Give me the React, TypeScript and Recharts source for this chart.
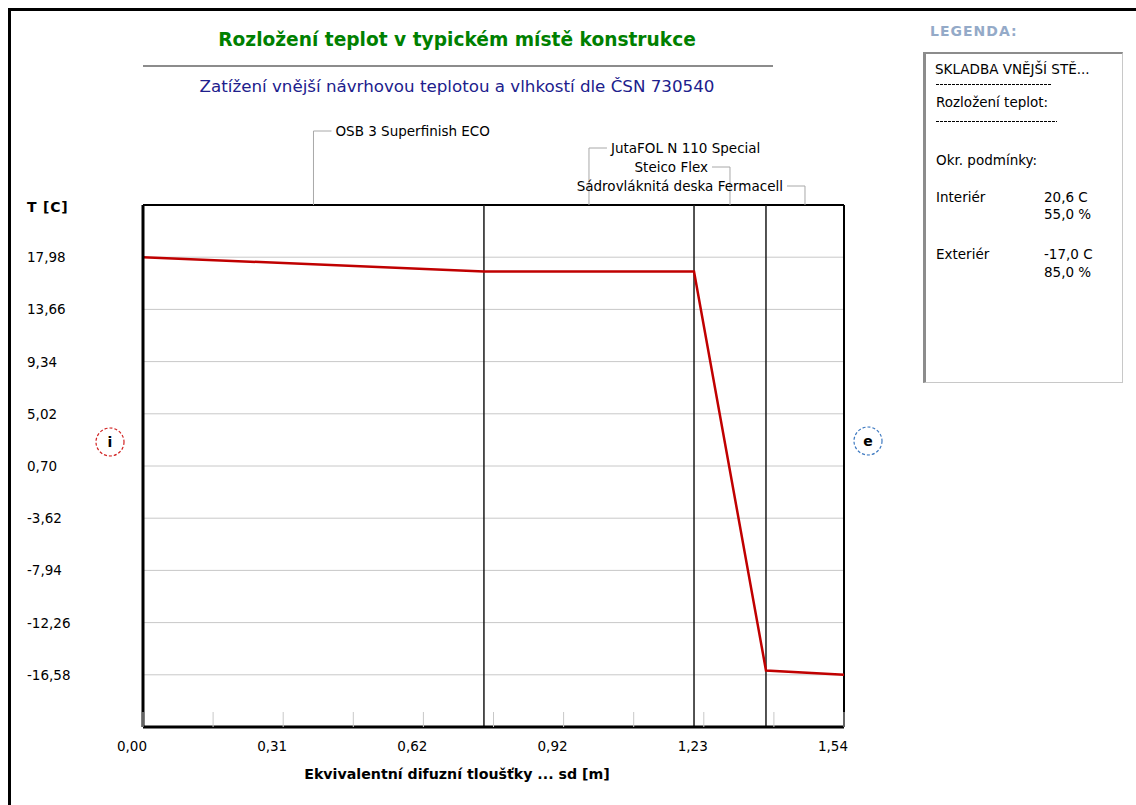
import React from "react";
import {
  CartesianGrid,
  Line,
  LineChart,
  ReferenceLine,
  XAxis,
  YAxis,
} from "recharts";

// layer boundaries along sd [m] and the temperature at each boundary [C]
const sdPoints = [0, 0.749, 1.2105, 1.3686, 1.54];
const tempPoints = [17.98, 16.8, 16.79, -16.22, -16.58];

const layerNames = [
  "OSB 3 Superfinish ECO",
  "JutaFOL N 110 Special",
  "Steico Flex",
  "Sádrovláknitá deska Fermacell",
];

const yTicks = [17.98, 13.66, 9.34, 5.02, 0.7, -3.62, -7.94, -12.26, -16.58];
const yDomain = [-20.9, 22.3];
const xTicks = [0, 0.154, 0.308, 0.462, 0.616, 0.77, 0.924, 1.078, 1.232, 1.386, 1.54];
const xLabelTicks = [0, 0.308, 0.616, 0.924, 1.232, 1.54];

const legendRows = [
  { name: "Interiér", temp: "20,6 C", rh: "55,0 %" },
  { name: "Exteriér", temp: "-17,0 C", rh: "85,0 %" },
];

// label placement for the layer names above the plot
const labelRise = [74, 57, 38, 19];
const labelSide = ["right", "right", "left", "left"];

const FONT = '"DejaVu Sans", Verdana, sans-serif';
const PLOT_BOTTOM = 727;

const data = sdPoints.map((sd, i) => ({ sd, t: tempPoints[i] }));

function fmt(n: number) {
  return n.toFixed(2).replace(".", ",");
}

function YTick({ y, payload }: any) {
  return (
    <text x={27} y={y} dy={5} fontSize={13.5} fontFamily={FONT} fill="#000" textAnchor="start">
      {fmt(payload.value)}
    </text>
  );
}

function XTick({ x, payload }: any) {
  const labelled = xLabelTicks.some((v) => Math.abs(v - payload.value) < 1e-6);
  return (
    <g>
      <line x1={x} x2={x} y1={PLOT_BOTTOM} y2={PLOT_BOTTOM - 15} stroke="#c8c8c8" />
      {labelled && (
        <text x={x + 4} y={751} fontSize={13.5} fontFamily={FONT} fill="#000" textAnchor="end">
          {fmt(payload.value)}
        </text>
      )}
    </g>
  );
}

function LeaderLabel({ viewBox, text, rise, side }: any) {
  if (!viewBox) return null;
  const lx = viewBox.x;
  const top = viewBox.y;
  const ly = top - rise;
  const dir = side === "right" ? 1 : -1;
  return (
    <g>
      <path d={`M${lx},${top}V${ly}H${lx + dir * 18}`} stroke="#a8a8a8" fill="none" />
      <text
        x={lx + dir * 22}
        y={ly + 5}
        fontSize={13.5}
        fontFamily={FONT}
        fill="#000"
        textAnchor={side === "right" ? "start" : "end"}
      >
        {text}
      </text>
    </g>
  );
}

function Txt({ x, y, children, style }: any) {
  return (
    <div
      style={{
        position: "absolute",
        left: x,
        top: y - 10,
        height: 20,
        lineHeight: "20px",
        whiteSpace: "nowrap",
        fontFamily: FONT,
        fontSize: 13.5,
        color: "#000",
        ...style,
      }}
    >
      {children}
    </div>
  );
}

function Dashes({ x, y, w }: any) {
  return (
    <div
      style={{
        position: "absolute",
        left: x,
        top: y,
        width: w,
        height: 1,
        background: "repeating-linear-gradient(90deg,#000 0 3px,transparent 3px 4px)",
      }}
    />
  );
}

export default function App() {
  const centers = layerNames.map((_, i) => (sdPoints[i] + sdPoints[i + 1]) / 2);
  return (
    <div style={{ position: "relative", width: 1136, height: 805, overflow: "hidden", background: "#fff" }}>
      <style>{"body{margin:0;overflow:hidden}"}</style>
      <div
        style={{
          position: "absolute",
          left: 8,
          top: 8,
          width: 1200,
          height: 900,
          borderLeft: "3px solid #000",
          borderTop: "3px solid #000",
        }}
      />

      <div
        style={{
          position: "absolute",
          left: 0,
          width: 914,
          top: 29,
          height: 22,
          lineHeight: "22px",
          textAlign: "center",
          fontFamily: FONT,
          fontWeight: "bold",
          fontSize: 18.6,
          color: "#008000",
        }}
      >
        Rozložení teplot v typickém místě konstrukce
      </div>
      <div style={{ position: "absolute", left: 143, top: 65, width: 630, height: 2, background: "#8c8c8c" }} />
      <div
        style={{
          position: "absolute",
          left: 0,
          width: 914,
          top: 76,
          height: 20,
          lineHeight: "20px",
          textAlign: "center",
          fontFamily: FONT,
          fontSize: 16.7,
          color: "#20208c",
        }}
      >
        Zatížení vnější návrhovou teplotou a vlhkostí dle ČSN 730540
      </div>

      <Txt x={27} y={207} style={{ fontWeight: "bold", fontSize: 14, letterSpacing: 0.8 }}>
        T [C]
      </Txt>
      <div
        style={{
          position: "absolute",
          left: 0,
          width: 914,
          top: 764,
          height: 20,
          lineHeight: "20px",
          textAlign: "center",
          fontFamily: FONT,
          fontWeight: "bold",
          fontSize: 14.2,
          color: "#000",
        }}
      >
        Ekvivalentní difuzní tloušťky ... sd [m]
      </div>

      <div style={{ position: "absolute", left: 0, top: 0 }}>
        <LineChart
          width={1136}
          height={805}
          data={data}
          margin={{ top: 205, right: 292, bottom: 0, left: 0 }}
        >
          <CartesianGrid vertical={false} stroke="#c8c8c8" strokeWidth={1} />
          <XAxis
            dataKey="sd"
            type="number"
            domain={[0, 1.54]}
            ticks={xTicks}
            interval={0}
            height={78}
            tickLine={false}
            axisLine={{ stroke: "#000", strokeWidth: 3 }}
            tick={<XTick />}
          />
          <YAxis
            type="number"
            domain={yDomain}
            ticks={yTicks}
            interval={0}
            width={143}
            tickLine={false}
            axisLine={{ stroke: "#000", strokeWidth: 3 }}
            tick={<YTick />}
          />
          <ReferenceLine y={yDomain[1]} stroke="#000" strokeWidth={2} />
          <ReferenceLine x={1.54} stroke="#000" strokeWidth={2} />
          {sdPoints.slice(1, -1).map((v) => (
            <ReferenceLine key={v} x={v} stroke="#1a1a1a" strokeWidth={1.5} />
          ))}
          {centers.map((c, i) => (
            <ReferenceLine
              key={"l" + i}
              x={c}
              stroke="none"
              strokeOpacity={0}
              label={<LeaderLabel text={layerNames[i]} rise={labelRise[i]} side={labelSide[i]} />}
            />
          ))}
          <Line
            type="linear"
            dataKey="t"
            stroke="#c00000"
            strokeWidth={2.5}
            dot={false}
            isAnimationActive={false}
          />
        </LineChart>
      </div>

      <svg style={{ position: "absolute", left: 0, top: 0 }} width={1136} height={805}>
        <circle cx={110} cy={442} r={14} fill="none" stroke="#d02020" strokeWidth={1.2} strokeDasharray="3 2" />
        <text x={110} y={447} textAnchor="middle" fontFamily={FONT} fontWeight="bold" fontSize={14}>
          i
        </text>
        <circle cx={868} cy={441} r={14} fill="none" stroke="#3c78c0" strokeWidth={1.2} strokeDasharray="3 2" />
        <text x={868} y={446} textAnchor="middle" fontFamily={FONT} fontWeight="bold" fontSize={14}>
          e
        </text>
      </svg>

      <Txt x={930} y={31} style={{ fontWeight: "bold", fontSize: 14, color: "#94aac8", letterSpacing: 1 }}>
        LEGENDA:
      </Txt>
      <div
        style={{
          position: "absolute",
          left: 923,
          top: 52,
          width: 196,
          height: 328,
          background: "#fff",
          borderTop: "2px solid #8c8c8c",
          borderLeft: "3px solid #8c8c8c",
          borderRight: "1px solid #c8c8c8",
          borderBottom: "1px solid #c8c8c8",
        }}
      />
      <Txt x={935} y={68.5}>SKLADBA VNĚJŠÍ STĚ...</Txt>
      <Dashes x={936} y={84} w={116} />
      <Txt x={936} y={102}>Rozložení teplot:</Txt>
      <Dashes x={936} y={121} w={121} />
      <Txt x={936} y={159.5}>Okr. podmínky:</Txt>
      {legendRows.map((r, i) => (
        <React.Fragment key={r.name}>
          <Txt x={936} y={197 + i * 56.5}>{r.name}</Txt>
          <Txt x={1044} y={197 + i * 56.5}>{r.temp}</Txt>
          <Txt x={1044} y={214 + i * 57.5}>{r.rh}</Txt>
        </React.Fragment>
      ))}
    </div>
  );
}
